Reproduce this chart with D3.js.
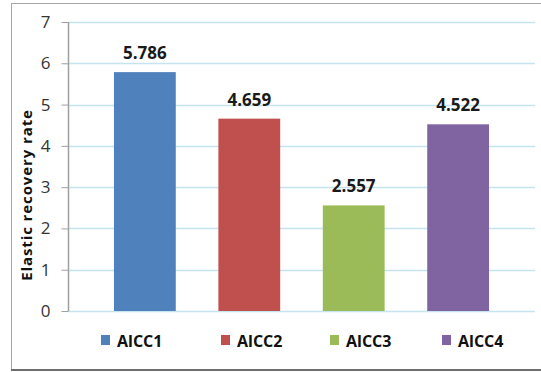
<!DOCTYPE html>
<html>
<head>
<meta charset="utf-8">
<script src="https://cdn.jsdelivr.net/npm/d3@7"></script>
<style>
  body { margin: 0; background: #fff; }
  svg { display: block; }
</style>
</head>
<body>
<div id="chart"></div>
<script>
// data
const categories = ['AlCC1', 'AlCC2', 'AlCC3', 'AlCC4']
const values = [5.786, 4.659, 2.557, 4.522]
const colors = ['#4f81bd', '#c0504d', '#9bbb59', '#8064a2']
const yTicks = [0, 1, 2, 3, 4, 5, 6, 7]
const legendX = [101, 221, 330, 442]

const outerWidth = 541
const outerHeight = 372
const margin = {top: 22, right: 5, bottom: 61, left: 68}
const height = outerHeight - margin.top - margin.bottom
const width = outerWidth - margin.left - margin.right
const font = "'Open Sans', 'DejaVu Sans', sans-serif"

const raw = d3.select('#chart')
  .append('svg')
  .attr('width', outerWidth)
  .attr('height', outerHeight)

// outer frame
raw.append('rect')
  .attr('x', 11.5)
  .attr('y', 3.5)
  .attr('width', 540)
  .attr('height', 366)
  .attr('fill', '#fff')
  .attr('stroke', '#a6a6a6')
raw.append('line')
  .attr('x1', 11)
  .attr('x2', 541)
  .attr('y1', 370)
  .attr('y2', 370)
  .attr('stroke', '#6e6e6e')
  .attr('stroke-width', 2)

const svg = raw.append('g')
  .attr('transform', `translate(${margin.left},${margin.top})`)

// scales
const xs = d3.scaleBand()
  .domain(categories)
  .range([0, width - 1])
  .paddingInner(0.408)
  .paddingOuter(0.44)
const ys = d3.scaleLinear()
  .domain([0, 7])
  .range([height, 0])

// gridlines
svg.selectAll('.grid')
  .data(yTicks)
  .enter()
  .append('line')
  .classed('grid', true)
  .attr('x1', 0)
  .attr('x2', width - 1)
  .attr('y1', (d) => Math.round(ys(d)) + 0.5)
  .attr('y2', (d) => Math.round(ys(d)) + 0.5)
  .attr('stroke', '#c6e4ef')
  .attr('stroke-width', 1.5)

// bars
svg.selectAll('.bar')
  .data(values)
  .enter()
  .append('rect')
  .classed('bar', true)
  .attr('x', (d, i) => xs(categories[i]))
  .attr('y', (d) => ys(d))
  .attr('width', xs.bandwidth())
  .attr('height', (d) => ys(0) - ys(d))
  .attr('fill', (d, i) => colors[i])

// value labels
svg.selectAll('.val')
  .data(values)
  .enter()
  .append('text')
  .classed('val', true)
  .attr('x', (d, i) => xs(categories[i]) + xs.bandwidth() / 2)
  .attr('y', (d) => ys(d) - 13)
  .attr('text-anchor', 'middle')
  .style('font-family', font)
  .style('font-size', '17px')
  .style('font-weight', 'bold')
  .style('fill', '#1a1a1a')
  .text((d) => d3.format('.3f')(d))

// y axis
const yAxis = svg.append('g')
  .attr('transform', 'translate(0.5,0)')
  .call(d3.axisLeft(ys).tickValues(yTicks).tickFormat(d3.format('d')).tickSize(7).tickPadding(11))
yAxis.select('.domain')
  .attr('stroke', '#a0a0a0')
  .attr('stroke-width', 1.5)
  .attr('d', `M0,0V${height}`)
yAxis.selectAll('.tick line')
  .attr('stroke', '#a0a0a0')
yAxis.selectAll('.tick text')
  .style('font-family', font)
  .style('font-size', '17px')
  .style('fill', '#333')

// y axis title
svg.append('text')
  .attr('transform', 'rotate(-90)')
  .attr('x', -(195 - margin.top))
  .attr('y', -36)
  .attr('text-anchor', 'middle')
  .style('font-family', font)
  .style('font-size', '15px')
  .style('font-weight', 'bold')
  .style('letter-spacing', '0.9px')
  .style('fill', '#111')
  .text('Elastic recovery rate')

// legend
const legend = raw.selectAll('.legend')
  .data(categories)
  .enter()
  .append('g')
  .classed('legend', true)
  .attr('transform', (d, i) => `translate(${legendX[i]},335)`)
legend.append('rect')
  .attr('width', 9)
  .attr('height', 10)
  .attr('fill', (d, i) => colors[i])
legend.append('text')
  .attr('x', 16)
  .attr('y', 11.5)
  .style('font-family', font)
  .style('font-size', '16px')
  .style('font-weight', 'bold')
  .style('fill', '#111')
  .text((d) => d)
</script>
</body>
</html>
